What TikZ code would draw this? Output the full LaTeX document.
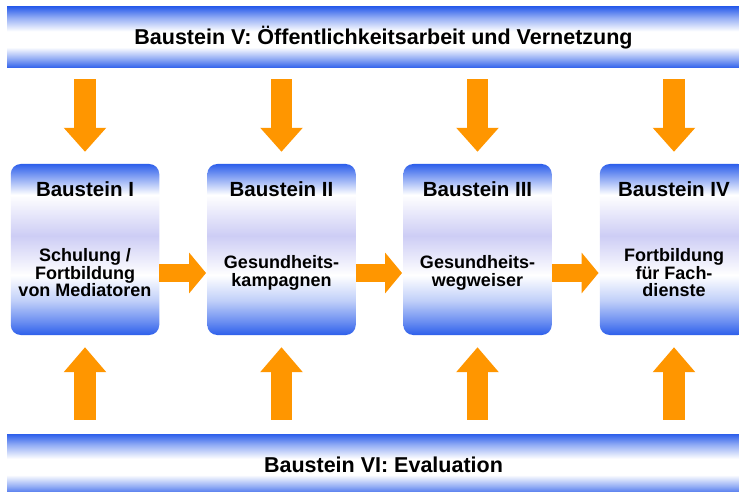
\documentclass[tikz,border=0pt]{standalone}
\usepackage{fontspec}
\setmainfont{Liberation Sans}
\usetikzlibrary{arrows.meta,calc}
\definecolor{bblue}{RGB}{45,95,235}
\definecolor{lav}{RGB}{205,205,245}
\definecolor{aorange}{RGB}{255,150,0}
\colorlet{bmid}{bblue!50!white}
\colorlet{bhi}{bblue!70!white}
\colorlet{blo}{bblue!30!white}
\colorlet{bmid2}{bblue!55!white}
\pgfdeclareverticalshading{barshade}{100bp}{color(0bp)=(bblue); color(25bp)=(bblue); color(33bp)=(bmid); color(42bp)=(white); color(55bp)=(white); color(66bp)=(bmid); color(75bp)=(bblue); color(100bp)=(bblue)}
\pgfdeclareverticalshading{boxshade}{100bp}{color(0bp)=(bblue); color(25bp)=(bblue); color(29bp)=(bhi); color(35bp)=(blo); color(42.5bp)=(white); color(54bp)=(lav); color(66bp)=(white); color(71bp)=(bmid2); color(75bp)=(bblue); color(100bp)=(bblue)}
\begin{document}
\begin{tikzpicture}[x=1pt,y=-1pt,
  bar/.style={shade, shading=barshade, minimum width=753pt, minimum height=61pt, inner sep=0pt, font=\fontsize{21.5}{24}\selectfont\bfseries},
  bbox/.style={shade, shading=boxshade, rounded corners=10pt, minimum width=148.5pt, minimum height=171pt, inner sep=0pt},
  btitle/.style={font=\fontsize{20.5}{22}\selectfont\bfseries, inner sep=0pt},
  bbody/.style={font=\fontsize{18}{17.5}\selectfont\bfseries, align=center, inner sep=0pt},
  downarrow/.style={draw=aorange, line width=21.5pt, -{Triangle[width=41pt,length=24pt]}},
  uparrow/.style={draw=aorange, line width=21.5pt, -{Triangle[width=41pt,length=25pt]}},
  harrow/.style={draw=aorange, line width=18pt, -{Triangle[width=40pt,length=17pt]}, shorten >=1pt}
]
\useasboundingbox (0,0) rectangle (739,492);
\fill[white] (0,0) rectangle (739,492);

\node[bar] (top) at (383.5,37.5) {Baustein V: Öffentlichkeitsarbeit und Vernetzung};
\node[bar, minimum height=62pt] (bot) at (383.5,465) {Baustein VI: Evaluation};

\node[bbox] (b1) at (85,249.5) {};
\node[bbox] (b2) at (281.5,249.5) {};
\node[bbox] (b3) at (477.5,249.5) {};
\node[bbox] (b4) at (674,249.5) {};

\node[btitle] (t1) at ($(b1.north)+(0,25)$) {Baustein I};
\node[btitle] (t2) at ($(b2.north)+(0,25)$) {Baustein II};
\node[btitle] (t3) at ($(b3.north)+(0,25)$) {Baustein III};
\node[btitle] (t4) at ($(b4.north)+(0,25)$) {Baustein IV};

\node[bbody] (x1) at ($(b1.north)+(0,109)$) {Schulung /\\Fortbildung\\von Mediatoren};
\node[bbody] (x2) at ($(b2.north)+(0,109)$) {Gesundheits-\\kampagnen};
\node[bbody] (x3) at ($(b3.north)+(0,109)$) {Gesundheits-\\wegweiser};
\node[bbody] (x4) at ($(b4.north)+(0,109)$) {Fortbildung\\für Fach-\\dienste};

\foreach \b in {b1,b2,b3,b4} {
  \draw[downarrow] ($(top.south -| \b.north)+(0,11)$) -- ($(\b.north)+(0,-12)$);
  \draw[uparrow] ($(bot.north -| \b.south)+(0,-14)$) -- ($(\b.south)+(0,12)$);
}
\draw[harrow] ($(b1.east)+(0,23.5)$) -- ($(b2.west)+(0,23.5)$);
\draw[harrow] ($(b2.east)+(0,23.5)$) -- ($(b3.west)+(0,23.5)$);
\draw[harrow] ($(b3.east)+(0,23.5)$) -- ($(b4.west)+(0,23.5)$);
\end{tikzpicture}
\end{document}
